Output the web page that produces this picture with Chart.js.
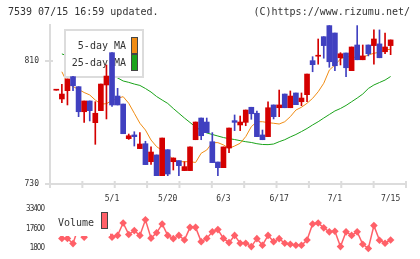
<!doctype html>
<html>
<head>
<meta charset="utf-8">
<title>7539</title>
<script src="https://cdn.jsdelivr.net/npm/chart.js"></script>
<style>
    body { margin: 0; background: #fff; }
    #wrap { position: relative; width: 420px; height: 259px; }
    #wrap canvas { position: absolute; left: 0; top: 0; }
</style>
</head>
<body>
<div id="wrap">
    <canvas id="priceChart" width="420" height="259"></canvas>
    <canvas id="volChart" width="420" height="259"></canvas>
</div>
<script>
    // daily candles, oldest first (61 sessions)
    const opens  = [791, 785.3, 790.7, 799.8, 793.3, 777.0, 784.0, 769.9, 777.7, 794.4,
                    815.4, 787.2, 782.0, 759.5, 761.9, 753.0, 756.2, 744.5, 748.9, 735.4,
                    752.3, 744.5, 745.2, 738.7, 738.7, 758.8, 772.9, 770.3, 757.5, 744.3,
                    740.6, 753.4, 771.2, 768.4, 770.1, 779.9, 776.0, 761.9, 760.8, 781.4,
                    779.6, 788.5, 779.6, 789.2, 783.5, 788.1, 810.2, 813.1, 825.8, 833.0,
                    828.2, 812.1, 815.2, 803.7, 820.4, 810.8, 820.4, 820.0, 821.1, 816.0, 820.0];
    const closes = [791, 788.5, 798.3, 793.9, 777.0, 784.0, 777.7, 776.0, 795.0, 800.2,
                    781.4, 781.4, 762.7, 761.4, 760.8, 756.0, 742.6, 750.8, 735.4, 759.9,
                    736.5, 746.9, 741.9, 741.3, 754.1, 770.3, 761.4, 763.4, 743.9, 740.6,
                    754.1, 766.4, 770.1, 770.3, 778.1, 775.7, 760.8, 758.8, 779.6, 773.8,
                    781.4, 779.6, 787.2, 781.6, 785.9, 801.5, 807.6, 813.7, 820.0, 809.5,
                    806.9, 814.7, 805.6, 819.1, 810.8, 813.3, 814.7, 824.3, 812.1, 819.1, 823.7];
    const highs  = [791, 794.8, 798.3, 800.0, 793.3, 784.0, 784.0, 783.5, 795.0, 807.4,
                    815.4, 792.2, 782.0, 762.5, 764.0, 763.4, 757.8, 754.1, 748.9, 759.9,
                    752.3, 747.0, 745.2, 744.5, 754.1, 770.3, 772.9, 772.9, 763.4, 744.3,
                    754.1, 766.4, 774.9, 774.2, 778.1, 779.9, 777.5, 765.1, 783.5, 781.4,
                    791.1, 788.5, 790.5, 789.2, 789.2, 801.5, 812.8, 824.3, 825.8, 833.0,
                    828.2, 815.4, 815.2, 819.1, 833.0, 820.4, 820.4, 830.2, 830.2, 828.2, 823.7];
    const lows   = [791, 782.9, 781.4, 790.7, 773.8, 770.1, 771.0, 755.8, 777.7, 772.3,
                    780.5, 781.4, 762.7, 759.0, 754.7, 753.0, 742.6, 742.8, 735.4, 735.4,
                    735.4, 739.1, 735.4, 738.7, 738.7, 758.8, 758.8, 763.4, 743.9, 735.4,
                    740.6, 750.4, 764.7, 764.7, 767.9, 772.1, 760.8, 758.8, 760.8, 772.3,
                    773.8, 779.6, 779.6, 781.6, 780.9, 783.5, 803.0, 807.9, 811.8, 805.9,
                    803.7, 807.4, 799.8, 803.7, 810.8, 810.8, 813.3, 807.9, 812.1, 814.7, 814.1];

    const ma5  = [null, 803.0, 795.5, 793.4, 791.5, 789.5, 787.9, 784.6, 782.0, 782.2,
                  784.4, 785.7, 786.8, 782.5, 776.0, 769.5, 765.1, 758.6, 754.3, 751.8,
                  748.9, 746.1, 744.5, 744.5, 744.5, 744.0, 750.0, 752.1, 756.9, 756.9,
                  755.4, 753.2, 754.7, 756.5, 760.8, 767.3, 770.5, 770.5, 769.9, 769.5,
                  769.0, 770.5, 773.8, 778.1, 779.9, 782.5, 785.7, 790.0, 795.5, 804.1,
                  807.4, 811.3, 812.8, 812.8, 812.0, 812.4, 813.9, 815.0, 815.7, 817.2, 817.6];
    const ma25 = [null, 814.6, 813.3, 811.3, 810.0, 808.7, 806.7, 805.4, 804.1, 802.2,
                  800.9, 799.0, 797.0, 796.1, 795.0, 794.1, 792.1, 789.8, 786.9, 784.6,
                  782.4, 779.1, 776.0, 772.9, 770.0, 767.1, 764.8, 763.2, 762.2, 761.2,
                  760.2, 759.5, 758.9, 758.2, 757.5, 757.0, 756.2, 755.7, 755.6, 756.0,
                  757.5, 758.8, 760.6, 762.2, 764.1, 766.1, 768.4, 770.5, 772.9, 775.2,
                  777.5, 779.1, 781.1, 783.5, 785.9, 788.5, 792.1, 794.4, 796.0, 797.6, 799.9];

    const volumes = [null, 9700, 9700, 5500, 19000, 10700, 16000, 24000, 20000, 17000,
                     10700, 12100, 22100, 12900, 16000, 12100, 24700, 9900, 14200, 21300,
                     12100, 9500, 12100, 8400, 18600, 18600, 7100, 9700, 15000, 16800,
                     9700, 6300, 12100, 5800, 5800, 3100, 9500, 4200, 12100, 7100,
                     9500, 5800, 5000, 4200, 4200, 8400, 21300, 22100, 18200, 15000,
                     15500, 3100, 15000, 12100, 15000, 5000, 1600, 20000, 8200, 5800, 8400];

    const tickIdx    = [10, 20, 30, 40, 50, 60];
    const tickLabels = ['5/1', '5/20', '6/3', '6/17', '7/1', '7/15'];
    const priceTicks = [730, 810];
    const volTicks   = [1800, 17600, 33400];

    const RED = '#d40000';
    const BLUE = '#4040c0';
    const ORANGE = '#f08c14';
    const GREEN = '#1aa31a';
    const VOLCOL = '#ff6068';
    const AXIS = '#dcdcdc';
    const TEXT = '#333';
    const MONO = "'DejaVu Sans Mono', monospace";

    const idx = opens.map((_, i) => i);
    const candleColor = ctx => closes[ctx.dataIndex] >= opens[ctx.dataIndex] ? RED : BLUE;

    function drawMaLegend(ctx) {
        ctx.save();
        ctx.fillStyle = '#fff';
        ctx.fillRect(65, 30, 78, 47);
        ctx.strokeStyle = AXIS;
        ctx.lineWidth = 2;
        ctx.strokeRect(65, 30, 78, 47);
        ctx.font = '10px ' + MONO;
        ctx.fillStyle = TEXT;
        ctx.textAlign = 'right';
        ctx.textBaseline = 'alphabetic';
        ctx.fillText('5-day MA', 126, 48.5);
        ctx.fillText('25-day MA', 126, 65.5);
        ctx.lineWidth = 1;
        ctx.strokeStyle = '#444';
        ctx.fillStyle = ORANGE;
        ctx.fillRect(131.5, 37.5, 6, 16);
        ctx.strokeRect(131.5, 37.5, 6, 16);
        ctx.fillStyle = GREEN;
        ctx.fillRect(131.5, 54.5, 6, 16);
        ctx.strokeRect(131.5, 54.5, 6, 16);
        ctx.restore();
    }

    const priceDecor = {
        id: 'priceDecor',
        beforeDatasetDraw(chart, args) {
            // legend sits above the MA lines but under the candles
            if (args.index === 2) drawMaLegend(chart.ctx);
        },
        afterDraw(chart) {
            const ctx = chart.ctx;
            const a = chart.chartArea;
            const ys = chart.scales.y;
            ctx.save();
            ctx.strokeStyle = AXIS;
            ctx.lineWidth = 2;
            ctx.beginPath();
            for (let k = 0; k <= 11; k++) {
                const x = a.left + k * (a.right - a.left) / 11;
                ctx.moveTo(x, a.bottom - 3);
                ctx.lineTo(x, a.bottom + 4);
            }
            priceTicks.forEach(v => {
                const y = ys.getPixelForValue(v);
                ctx.moveTo(a.left - 5, y);
                ctx.lineTo(a.left + 3, y);
            });
            ctx.stroke();

            ctx.font = '10px ' + MONO;
            ctx.fillStyle = TEXT;
            ctx.textBaseline = 'alphabetic';
            ctx.textAlign = 'left';
            ctx.fillText('7539 07/15 16:59 updated.', 8, 14.7);
            ctx.textAlign = 'right';
            ctx.fillText('(C)https://www.rizumu.net/', 410, 14.7);
            ctx.restore();
        }
    };

    new Chart(document.getElementById('priceChart'), {
        type: 'bar',
        data: {
            datasets: [
                {
                    type: 'line', label: '25-day MA',
                    data: idx.map(i => ({x: i, y: ma25[i]})),
                    borderColor: GREEN, borderWidth: 1, pointRadius: 0, tension: 0, order: 4
                },
                {
                    type: 'line', label: '5-day MA',
                    data: idx.map(i => ({x: i, y: ma5[i]})),
                    borderColor: ORANGE, borderWidth: 1, pointRadius: 0, tension: 0, order: 3
                },
                {
                    label: 'wick',
                    data: idx.map(i => ({x: i, y: [lows[i], highs[i]]})),
                    backgroundColor: candleColor, barThickness: 1, grouped: false, order: 2
                },
                {
                    label: 'body',
                    data: idx.map(i => ({x: i, y: [opens[i], closes[i]]})),
                    backgroundColor: candleColor, barThickness: 5, minBarLength: 1,
                    grouped: false, order: 1
                }
            ]
        },
        options: {
            responsive: false,
            animation: false,
            devicePixelRatio: 1,
            layout: { padding: { left: 0, right: 14, top: 25, bottom: 55 } },
            plugins: { legend: { display: false }, tooltip: { enabled: false } },
            scales: {
                x: {
                    type: 'linear', min: -1.13, max: 62.76, offset: false,
                    grid: { display: false, drawTicks: false },
                    border: { color: AXIS, width: 2 },
                    afterBuildTicks: s => { s.ticks = tickIdx.map(v => ({value: v})); },
                    afterFit: s => { s.height = 20; },
                    ticks: {
                        callback: v => tickLabels[tickIdx.indexOf(v)],
                        font: { family: MONO, size: 8 }, color: TEXT,
                        padding: 10, autoSkip: false, maxRotation: 0
                    }
                },
                y: {
                    min: 730, max: 833.4,
                    grid: { display: false, drawTicks: false },
                    border: { color: AXIS, width: 2 },
                    afterBuildTicks: s => { s.ticks = priceTicks.map(v => ({value: v})); },
                    afterFit: s => { s.width = 50; },
                    ticks: { font: { family: MONO, size: 8 }, color: TEXT, padding: 11 }
                }
            }
        },
        plugins: [priceDecor]
    });

    const volDecor = {
        id: 'volDecor',
        beforeDraw(chart) {
            // the volume tick labels are set tight in the original
            chart.ctx.letterSpacing = '-1px';
        },
        afterDatasetsDraw(chart) {
            const ctx = chart.ctx;
            ctx.save();
            ctx.letterSpacing = '0px';
            ctx.fillStyle = '#fff';
            ctx.fillRect(52, 205, 58, 31);
            ctx.font = '10px ' + MONO;
            ctx.fillStyle = TEXT;
            ctx.textAlign = 'left';
            ctx.textBaseline = 'alphabetic';
            ctx.fillText('Volume', 58, 226);
            ctx.fillStyle = VOLCOL;
            ctx.strokeStyle = '#444';
            ctx.lineWidth = 1;
            ctx.fillRect(101.5, 212.5, 6, 16);
            ctx.strokeRect(101.5, 212.5, 6, 16);
            ctx.restore();
        },
        afterDraw(chart) {
            chart.ctx.letterSpacing = '0px';
        }
    };

    new Chart(document.getElementById('volChart'), {
        type: 'line',
        data: {
            datasets: [{
                label: 'Volume',
                data: idx.map(i => ({x: i, y: volumes[i]})),
                borderColor: VOLCOL, borderWidth: 1.5,
                pointStyle: 'rectRot', pointRadius: 3.8,
                pointBackgroundColor: VOLCOL, pointBorderWidth: 0,
                tension: 0, clip: 8
            }]
        },
        options: {
            responsive: false,
            animation: false,
            devicePixelRatio: 1,
            layout: { padding: { left: 0, right: 14, top: 209, bottom: 10 } },
            plugins: { legend: { display: false }, tooltip: { enabled: false } },
            scales: {
                x: { type: 'linear', min: -1.13, max: 62.76, display: false },
                y: {
                    min: 1800, max: 33400,
                    grid: { display: false, drawTicks: false },
                    border: { display: false },
                    afterBuildTicks: s => { s.ticks = volTicks.map(v => ({value: v})); },
                    afterFit: s => { s.width = 50; },
                    ticks: {
                        callback: v => String(v),
                        font: { family: "'DejaVu Sans Condensed', 'DejaVu Sans', sans-serif", size: 8 },
                        color: TEXT, padding: 6
                    }
                }
            }
        },
        plugins: [volDecor]
    });
</script>
</body>
</html>
